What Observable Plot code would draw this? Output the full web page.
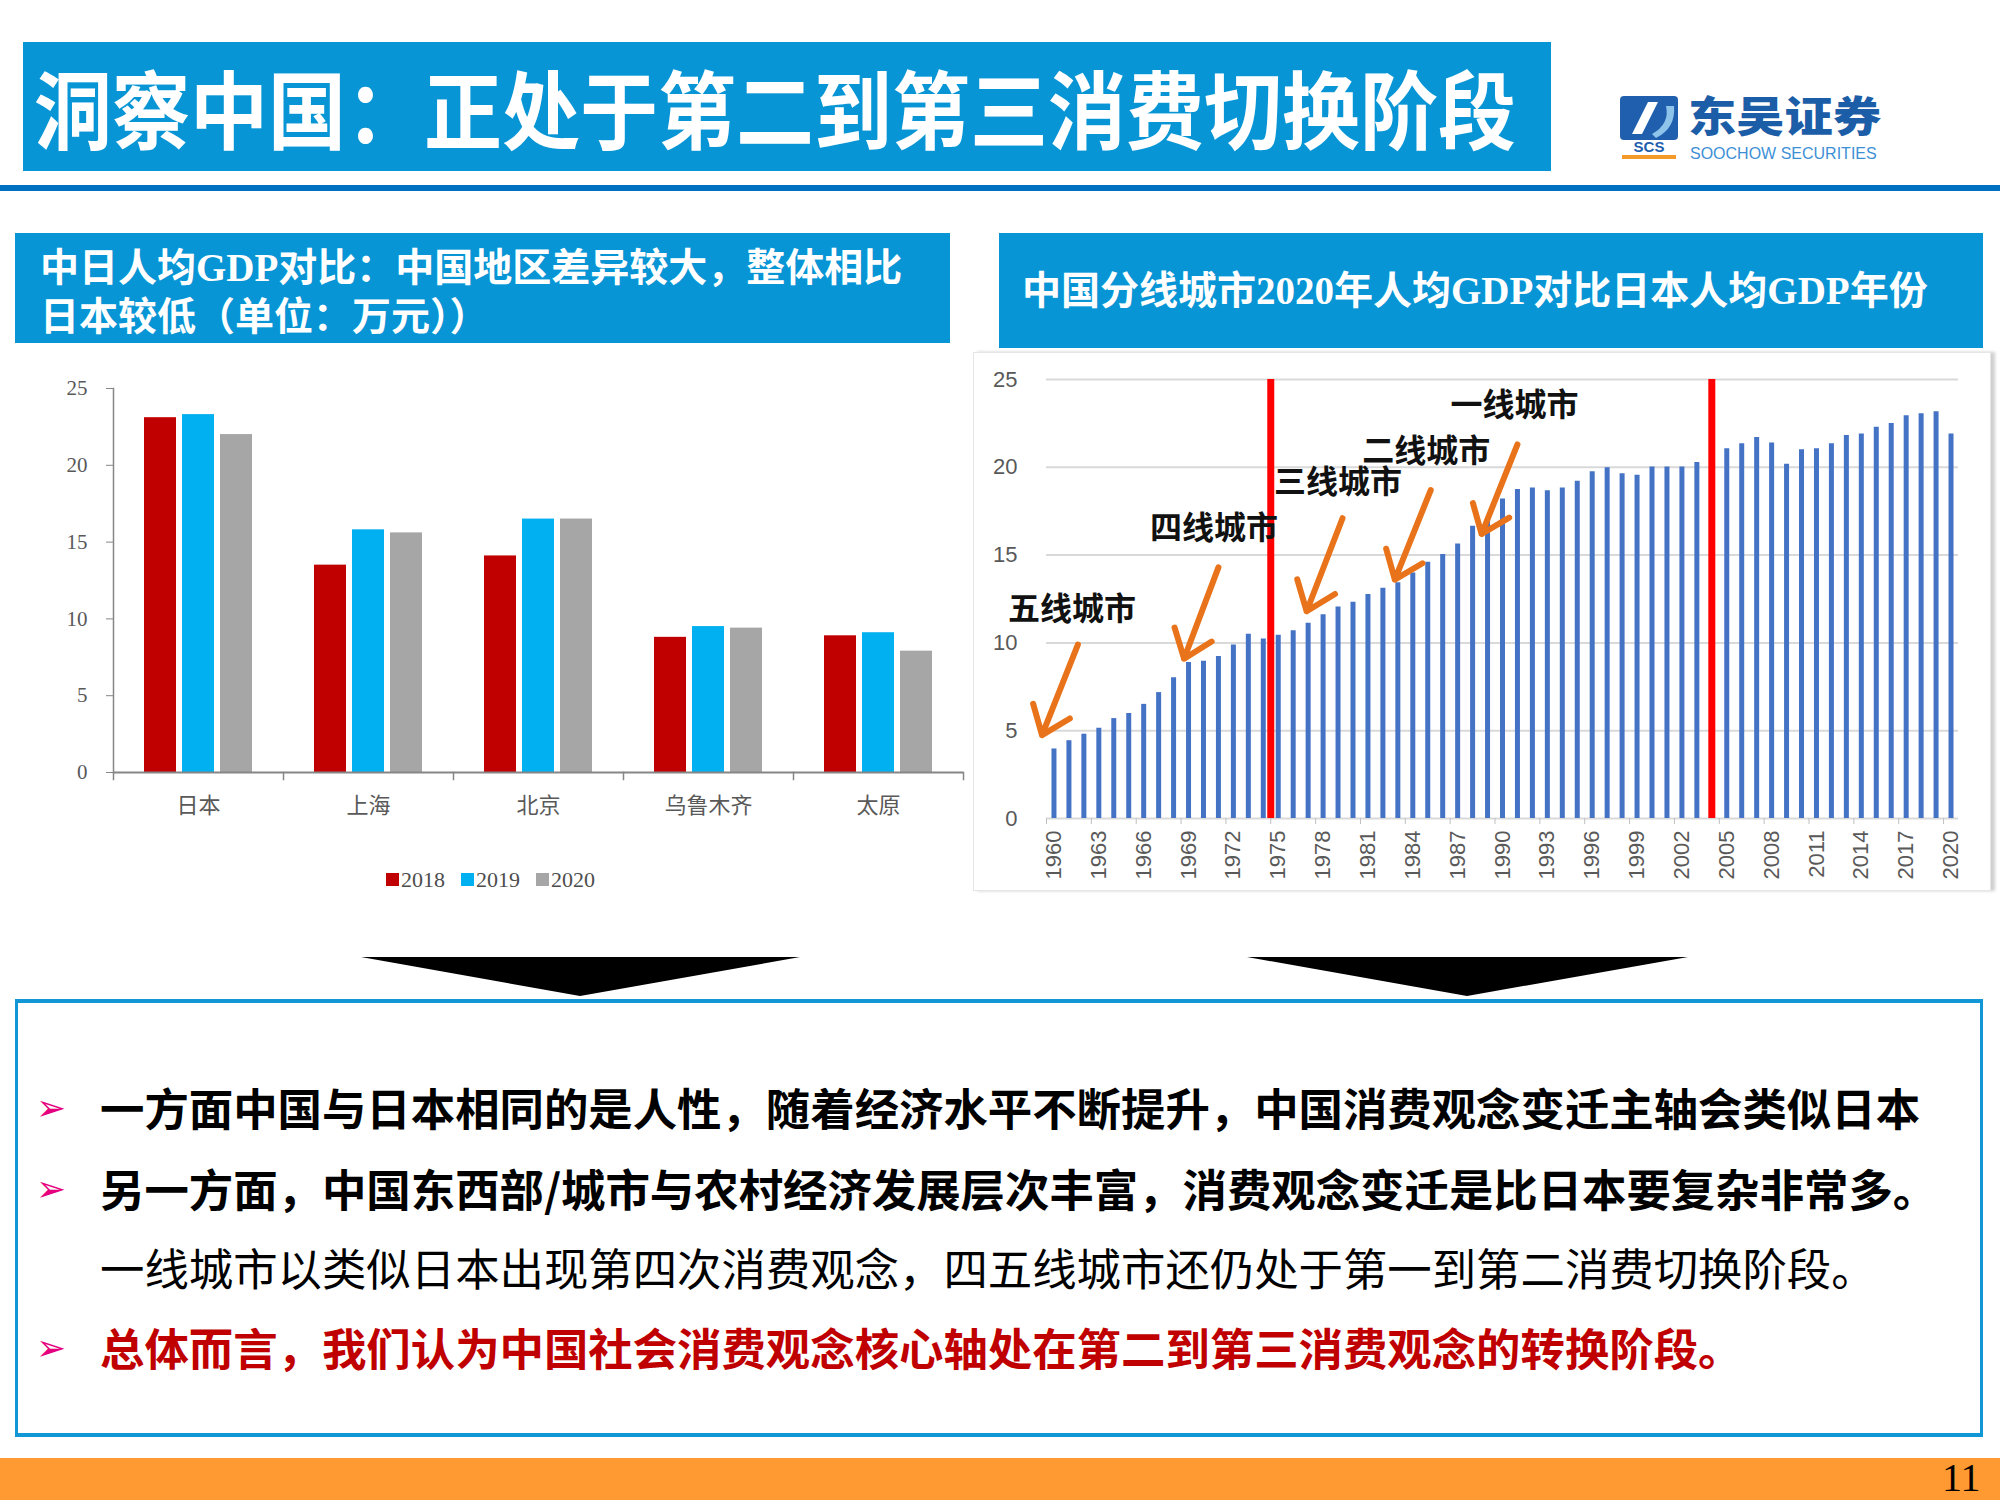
<!DOCTYPE html>
<html><head><meta charset="utf-8">
<script src="https://cdn.jsdelivr.net/npm/d3@7"></script>
<script src="https://cdn.jsdelivr.net/npm/@observablehq/plot@0.6"></script>
<style>
body{margin:0;background:#fff;}
#page{position:relative;width:2000px;height:1500px;overflow:hidden;font-family:"Noto Sans CJK SC",sans-serif;background:#fff;}
.abs{position:absolute;white-space:nowrap;}
.line{position:absolute;left:100px;font-size:44.4px;line-height:60px;height:60px;font-weight:700;color:#000;white-space:nowrap;}
.bullet{position:absolute;left:36px;font-size:36px;line-height:60px;height:60px;color:#E6007E;font-family:"DejaVu Sans";}
.lg-swatch{margin-right:16px !important;}
.lg-swatch svg{margin-right:2px !important;}
</style></head>
<body><div id="page">
  <!-- header -->
  <div class="abs" style="left:23px;top:42px;width:1528px;height:129px;background:#0795D5;"></div>
  <div class="abs" style="left:34px;top:42px;height:129px;line-height:129px;color:#fff;font-size:78px;font-weight:700;transform:scale(1,1.1);transform-origin:left center;">洞察中国：正处于第二到第三消费切换阶段</div>
  <div class="abs" style="left:0;top:185px;width:2000px;height:6px;background:#0070C0;"></div>
  <!-- logo -->
  <svg class="abs" style="left:1618px;top:94px;" width="64" height="66" viewBox="0 0 64 66">
    <rect x="2" y="2" width="58" height="44" rx="4" fill="#1F5FAD"/>
    <path d="M14 40 L30 8 L40 8 L24 40 Z" fill="#fff"/>
    <path d="M34 40 Q52 30 48 12 L56 12 Q58 34 38 44 Z" fill="#8EC3EA"/>
    <text x="31" y="58" text-anchor="middle" font-family="Liberation Sans" font-weight="700" font-size="15" fill="#1F5FAD">SCS</text>
    <rect x="4" y="61" width="54" height="4" fill="#F39A2B"/>
  </svg>
  <div class="abs" style="left:1688px;top:85px;font-size:42px;line-height:58px;height:58px;font-weight:900;color:#1C5DA8;transform:scale(1.15,1);transform-origin:left center;">东吴证券</div>
  <div class="abs" style="left:1690px;top:144px;font-size:16px;line-height:19px;font-family:'Liberation Sans';color:#3D8FD6;transform:scale(1.0,1.05);transform-origin:left center;">SOOCHOW SECURITIES</div>

  <!-- subtitle boxes -->
  <div class="abs" style="left:15px;top:233px;width:935px;height:110px;background:#0795D5;"></div>
  <div class="abs" style="left:40px;top:243px;font-size:39px;line-height:49px;font-weight:700;color:#fff;font-family:'Liberation Serif','Noto Sans CJK SC';">中日人均GDP对比：中国地区差异较大，整体相比<br>日本较低（单位：万元））</div>
  <div class="abs" style="left:999px;top:233px;width:984px;height:115px;background:#0795D5;"></div>
  <div class="abs" style="left:1022px;top:267px;font-size:39px;line-height:48px;font-weight:700;color:#fff;font-family:'Liberation Serif','Noto Sans CJK SC';">中国分线城市2020年人均GDP对比日本人均GDP年份</div>

  <!-- charts -->
  <div id="leftChart" class="abs" style="left:0;top:360px;"></div>
  <div id="legend" class="abs" style="left:386px;top:863px;"></div>
  <div class="abs" style="left:973px;top:352px;width:1016px;height:537px;border:1px solid #E6E6E6;box-shadow:4px 0 3px #D0D0D0;"></div>
  <div id="rightChart" class="abs" style="left:975px;top:355px;"></div>

  <!-- triangles -->
  <svg class="abs" style="left:0;top:0;pointer-events:none;" width="2000" height="1500">
    <polygon points="361,957 800,957 580,996" fill="#000"/>
    <polygon points="1247,957 1688,957 1467,996" fill="#000"/>
  </svg>

  <!-- bottom box -->
  <div class="abs" style="left:15px;top:999px;width:1962px;height:430px;border:3px solid #1196D6;border-top-width:4px;border-bottom-width:4px;"></div>
  <div class="bullet" style="top:1078px;">➢</div>
  <div class="line" style="top:1077px;">一方面中国与日本相同的是人性，随着经济水平不断提升，中国消费观念变迁主轴会类似日本</div>
  <div class="bullet" style="top:1159px;">➢</div>
  <div class="line" style="top:1158px;">另一方面，中国东西部/城市与农村经济发展层次丰富，消费观念变迁是比日本要复杂非常多。</div>
  <div class="line" style="top:1237px;font-weight:400;">一线城市以类似日本出现第四次消费观念，四五线城市还仍处于第一到第二消费切换阶段。</div>
  <div class="bullet" style="top:1318px;">➢</div>
  <div class="line" style="top:1317px;color:#C00000;">总体而言，我们认为中国社会消费观念核心轴处在第二到第三消费观念的转换阶段。</div>

  <!-- footer -->
  <div class="abs" style="left:0;top:1458px;width:2000px;height:42px;background:#FF9A33;"></div>
  <div class="abs" style="left:1942px;top:1456px;font-size:40px;line-height:44px;font-family:'Liberation Serif';color:#000;">11</div>
</div>
<script>
// ---------- Left chart data ----------
const cities = ["日本", "上海", "北京", "乌鲁木齐", "太原"];
const seriesNames = ["2018", "2019", "2020"];
const gdp2018 = [23.1, 13.5, 14.1, 8.8, 8.9];
const gdp2019 = [23.3, 15.8, 16.5, 9.5, 9.1];
const gdp2020 = [22.0, 15.6, 16.5, 9.4, 7.9];
const seriesColors = ["#C00000", "#00B0F0", "#A6A6A6"];
const leftTicks = [0, 5, 10, 15, 20, 25];

// ---------- Right chart data ----------
const japanYears = [1960,1961,1962,1963,1964,1965,1966,1967,1968,1969,1970,1971,1972,1973,1974,1975,1976,1977,1978,1979,1980,1981,1982,1983,1984,1985,1986,1987,1988,1989,1990,1991,1992,1993,1994,1995,1996,1997,1998,1999,2000,2001,2002,2003,2004,2005,2006,2007,2008,2009,2010,2011,2012,2013,2014,2015,2016,2017,2018,2019,2020];
const japanGdp = [3.96,4.43,4.80,5.14,5.69,5.98,6.50,7.17,8.01,8.88,8.96,9.23,9.88,10.49,10.22,10.43,10.69,11.12,11.61,12.05,12.32,12.76,13.11,13.43,13.98,14.59,15.04,15.63,16.65,17.10,18.19,18.74,18.82,18.66,18.82,19.21,19.74,19.98,19.63,19.55,20.02,20.02,20.02,20.28,20.80,21.06,21.34,21.69,21.38,20.18,21.00,21.06,21.34,21.81,21.89,22.28,22.50,22.93,23.05,23.17,21.89];
const rightTicks = [0, 5, 10, 15, 20, 25];
const yearLabels = [1960,1963,1966,1969,1972,1975,1978,1981,1984,1987,1990,1993,1996,1999,2002,2005,2008,2011,2014,2017,2020];
const yearTickMarks = [1959.5,1962.5,1965.5,1968.5,1971.5,1974.5,1977.5,1980.5,1983.5,1986.5,1989.5,1992.5,1995.5,1998.5,2001.5,2004.5,2007.5,2010.5,2013.5,2016.5,2019.5];
const stageBreaks = [1974.5, 2004];
const tierLabels = ["五线城市", "四线城市", "三线城市", "二线城市", "一线城市"];
const tierLabelYear = [1961.2, 1970.7, 1979.0, 1984.9, 1990.8];
const tierLabelValue = [11.9, 16.5, 19.1, 20.9, 23.5];
const arrowFromYear = [1961.6, 1971.0, 1979.3, 1985.2, 1991.0];
const arrowFromValue = [9.9, 14.3, 17.1, 18.7, 21.3];
const arrowToYear = [1959.2, 1968.7, 1976.9, 1982.8, 1988.6];
const arrowToValue = [4.75, 9.1, 11.8, 13.6, 16.2];

// ---------- Left chart ----------
const seriesValues = [gdp2018, gdp2019, gdp2020];
const leftRows = [];
cities.forEach((c, i) => seriesNames.forEach((s, j) => leftRows.push({city: c, series: s, value: seriesValues[j][i]})));
const LW = 980, LH = 480, LMT = 28, LMB = 68;
const axisGray = "#868686";
const left = Plot.plot({
  width: LW, height: LH, marginLeft: 112, marginRight: 17, marginTop: LMT, marginBottom: LMB,
  style: {background: "transparent", color: "#595959", fontSize: "20px", overflow: "visible"},
  fx: {domain: cities, padding: 0, label: null},
  x: {domain: seriesNames, paddingInner: 0.17, paddingOuter: 0.82, axis: null},
  y: {domain: [0, 25], label: null},
  color: {domain: seriesNames, range: seriesColors},
  marks: [
    Plot.barY(leftRows, {fx: "city", x: "series", y: "value", fill: "series"}),
    Plot.frame({anchor: "left", facetAnchor: "left", stroke: axisGray, strokeWidth: 1.5}),
    Plot.ruleY([0], {stroke: axisGray, strokeWidth: 2}),
    Plot.frame({anchor: "left", stroke: axisGray, strokeWidth: 1.5, insetTop: LH - LMT - LMB, insetBottom: -7}),
    Plot.frame({anchor: "right", facetAnchor: "right", stroke: axisGray, strokeWidth: 1.5, insetTop: LH - LMT - LMB, insetBottom: -7}),
    Plot.axisY({ticks: leftTicks, tickSize: 7, tickPadding: 19, fontFamily: "Liberation Serif", fontSize: 21, label: null, stroke: axisGray}),
    Plot.axisFx({tickSize: 0, tickPadding: 25, fontSize: 22, fontFamily: "Noto Sans CJK SC", label: null, anchor: "bottom"})
  ]
});
document.getElementById("leftChart").appendChild(left);

const legend = Plot.legend({
  color: {domain: seriesNames, range: seriesColors},
  swatchSize: 13, className: "lg",
  style: {fontFamily: "Liberation Serif", fontSize: "22px", color: "#4D4D4D", background: "transparent"}
});
document.getElementById("legend").appendChild(legend);

// ---------- Right chart ----------
const japanRows = japanYears.map((y, i) => ({year: y, value: japanGdp[i]}));
const tierRows = tierLabels.map((t, i) => ({
  label: t, lx: tierLabelYear[i], ly: tierLabelValue[i],
  x1: arrowFromYear[i], y1: arrowFromValue[i], x2: arrowToYear[i], y2: arrowToValue[i]
}));
const right = Plot.plot({
  width: 1020, height: 536, marginLeft: 71, marginRight: 37, marginTop: 24, marginBottom: 73,
  style: {background: "transparent", color: "#595959", fontSize: "20px", fontFamily: "Liberation Sans", overflow: "visible"},
  x: {domain: [1959.5, 2020.5], label: null},
  y: {domain: [0, 25], label: null},
  marks: [
    Plot.ruleY(rightTicks, {stroke: "#D9D9D9", strokeWidth: 2}),
    Plot.ruleX(japanRows, {x: "year", y1: 0, y2: "value", stroke: "#4472C4", strokeWidth: 5}),
    Plot.ruleX(stageBreaks, {y1: 0, y2: 25, stroke: "#FF0000", strokeWidth: 7}),
    Plot.axisX({ticks: yearTickMarks, tickSize: 6, tickFormat: () => "", stroke: "#BFBFBF", label: null}),
    Plot.axisX({ticks: yearLabels, tickSize: 0, tickPadding: 12, tickRotate: -90, tickFormat: d => String(d), fontSize: 22, label: null}),
    Plot.axisY({ticks: rightTicks, tickSize: 0, tickPadding: 29, fontSize: 22, label: null}),
    Plot.arrow(tierRows, {x1: "x1", y1: "y1", x2: "x2", y2: "y2", stroke: "#E8731A", strokeWidth: 6, headLength: 20, headAngle: 75}),
    Plot.text(tierRows, {x: "lx", y: "ly", text: "label", fontSize: 32, fontWeight: "bold", fill: "#111", fontFamily: "Noto Sans CJK SC"})
  ]
});
document.getElementById("rightChart").appendChild(right);
</script>
</body></html>
